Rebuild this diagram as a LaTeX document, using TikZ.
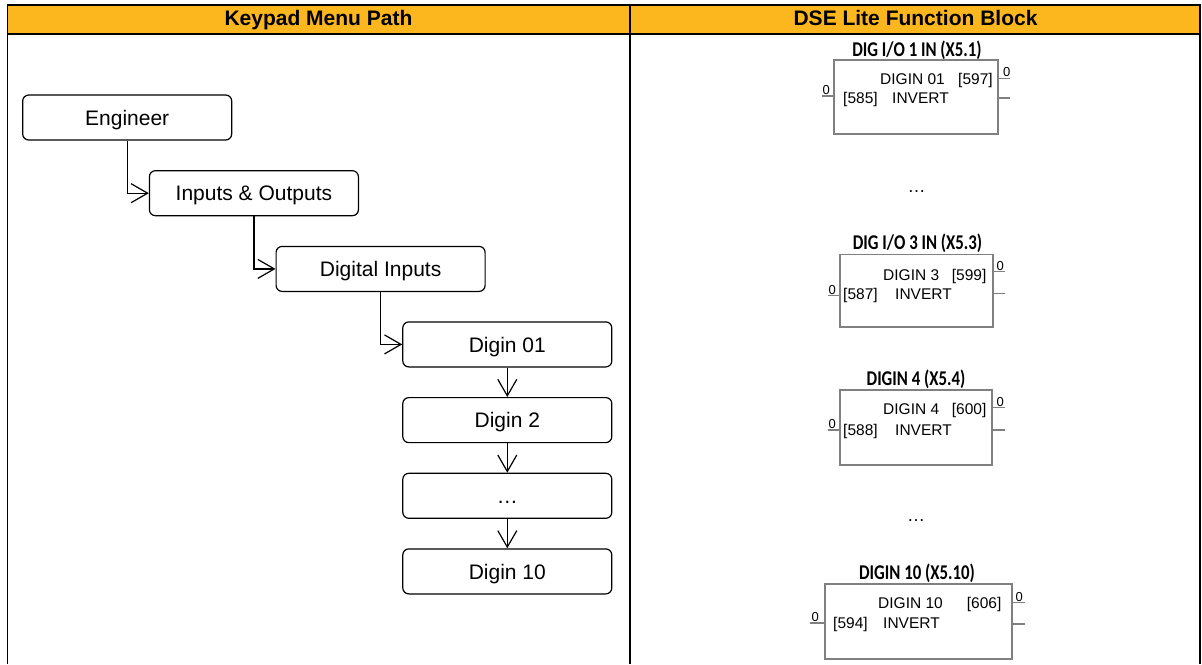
\documentclass[tikz,border=0pt]{standalone}
\usepackage{fontspec}
\setmainfont{Liberation Sans}
\newfontfamily\calibfont[FakeStretch=0.8]{Carlito}
\usetikzlibrary{arrows.meta,calc}
\definecolor{hdr}{HTML}{FDB71E}
\definecolor{fbgray}{HTML}{808080}
\begin{document}
\begin{tikzpicture}[x=1pt,y=-1pt,
  menubox/.style={draw=black,line width=1.2pt,rounded corners=6pt,minimum width=209pt,minimum height=45pt,inner sep=0pt,font=\fontsize{21}{24}\selectfont,text height=15.5pt,text depth=0pt},
  conn/.style={draw=black,line width=1.2pt,-{Straight Barb[length=16.5pt,width=19pt]}},
  fbox/.style={draw=fbgray,line width=1.6pt,inner sep=0pt},
  ftitle/.style={anchor=base,inner sep=0pt,font=\calibfont\bfseries\fontsize{21}{24}\selectfont},
  ftext/.style={anchor=base west,inner sep=0pt,font=\fontsize{15.5}{18}\selectfont},
  pinlbl/.style={anchor=base west,inner sep=0pt,font=\fontsize{13}{15}\selectfont},
  pinline/.style={draw=fbgray,line width=1.3pt},
  hdrtext/.style={anchor=base,inner sep=0pt,font=\bfseries\fontsize{21}{24}\selectfont},
  dots/.style={anchor=base,inner sep=0pt,font=\fontsize{18}{20}\selectfont}]
\useasboundingbox (0,0) rectangle (1202,664);

% table
\fill[hdr] (7.5,5) rectangle (1200,34.3);
\draw[line width=1.7pt] (6.6,5) -- (1200.8,5);
\draw[line width=2pt] (7.5,34.3) -- (1200,34.3);
\draw[line width=1.7pt] (7.5,5) -- (7.5,664);
\draw[line width=1.7pt] (629.7,5) -- (629.7,664);
\draw[line width=1.5pt] (1200,5) -- (1200,664);
\node[hdrtext] (h1) at (318.5,25) {Keypad Menu Path};
\node[hdrtext] (h2) at (915.5,25) {DSE Lite Function Block};

% menu path
\node[menubox] (eng) at (127.2,117.5) {Engineer};
\node[menubox] (io)  at (253.9,193.2) {Inputs \& Outputs};
\node[menubox] (di)  at (380.6,268.9) {Digital Inputs};
\node[menubox] (d01) at (507.3,344.4) {Digin 01};
\node[menubox] (d02) at (507.3,420.1) {Digin 2};
\node[menubox] (ddd) at (507.3,495.8) {…};
\node[menubox] (d10) at (507.3,571.4) {Digin 10};
\draw[conn] (eng.south) |- (io.west);
\draw[conn] (io.south) |- (di.west);
\draw[conn] (di.south) |- (d01.west);
\draw[conn] (d01.south) -- (d02.north);
\draw[conn] (d02.south) -- (ddd.north);
\draw[conn] (ddd.south) -- (d10.north);

% block 1
\node[fbox,minimum width=164pt,minimum height=74pt] (b1) at (916,97) {};
\node[ftitle] (t1) at (917,56) {DIG I/O 1 IN (X5.1)};
\node[ftext] (b1a) at (880,84) {DIGIN 01};
\node[ftext] (b1b) at (958,84) {[597]};
\node[ftext] (b1c) at (843,103) {[585]};
\node[ftext] (b1d) at (892,103) {INVERT};
\coordinate (b1in) at (822,96);
\coordinate (b1o1) at (1010,78.3);
\coordinate (b1o2) at (1010,98);
\draw[pinline] (b1in) -- (b1in -| b1.west);
\draw[pinline] (b1o1) -- (b1o1 -| b1.east);
\draw[pinline] (b1o2) -- (b1o2 -| b1.east);
\node[pinlbl] (b1l0) at (822.5,94.3) {0};
\node[pinlbl] (b1l1) at (1003,76.6) {0};

\node[dots] (e1) at (916.5,192) {…};

% block 2
\node[fbox,minimum width=153pt,minimum height=72.4pt] (b2) at (916.5,290.5) {};
\node[ftitle] (t2) at (917.5,249.3) {DIG I/O 3 IN (X5.3)};
\node[ftext] (b2a) at (883,280) {DIGIN 3};
\node[ftext] (b2b) at (951.7,280) {[599]};
\node[ftext] (b2c) at (843,299) {[587]};
\node[ftext] (b2d) at (895,299) {INVERT};
\coordinate (b2in) at (828,295.7);
\coordinate (b2o1) at (1005,271.7);
\coordinate (b2o2) at (1005,293.3);
\draw[pinline] (b2in) -- (b2in -| b2.west);
\draw[pinline] (b2o1) -- (b2o1 -| b2.east);
\draw[pinline] (b2o2) -- (b2o2 -| b2.east);
\node[pinlbl] (b2l0) at (828.3,294) {0};
\node[pinlbl] (b2l1) at (996.5,270) {0};

% block 3
\node[fbox,minimum width=151.7pt,minimum height=75pt] (b3) at (915.85,427.5) {};
\node[ftitle] (t3) at (916,385) {DIGIN 4 (X5.4)};
\node[ftext] (b3a) at (883,414.3) {DIGIN 4};
\node[ftext] (b3b) at (951.7,414.3) {[600]};
\node[ftext] (b3c) at (843,435) {[588]};
\node[ftext] (b3d) at (895,435) {INVERT};
\coordinate (b3in) at (828,430);
\coordinate (b3o1) at (1005,407.7);
\coordinate (b3o2) at (1005,430);
\draw[pinline] (b3in) -- (b3in -| b3.west);
\draw[pinline] (b3o1) -- (b3o1 -| b3.east);
\draw[pinline] (b3o2) -- (b3o2 -| b3.east);
\node[pinlbl] (b3l0) at (828.3,428.3) {0};
\node[pinlbl] (b3l1) at (996.5,406) {0};

\node[dots] (e2) at (916,521) {…};

% block 4
\node[fbox,minimum width=186.7pt,minimum height=75pt] (b4) at (918.35,621.5) {};
\node[ftitle] (t4) at (917,579) {DIGIN 10 (X5.10)};
\node[ftext] (b4a) at (878,608) {DIGIN 10};
\node[ftext] (b4b) at (966.7,608) {[606]};
\node[ftext] (b4c) at (833,628) {[594]};
\node[ftext] (b4d) at (883,628) {INVERT};
\coordinate (b4in) at (810,623);
\coordinate (b4o1) at (1025,602.7);
\coordinate (b4o2) at (1025,624);
\draw[pinline] (b4in) -- (b4in -| b4.west);
\draw[pinline] (b4o1) -- (b4o1 -| b4.east);
\draw[pinline] (b4o2) -- (b4o2 -| b4.east);
\node[pinlbl] (b4l0) at (811.3,621.3) {0};
\node[pinlbl] (b4l1) at (1015.5,601) {0};
\end{tikzpicture}
\end{document}
